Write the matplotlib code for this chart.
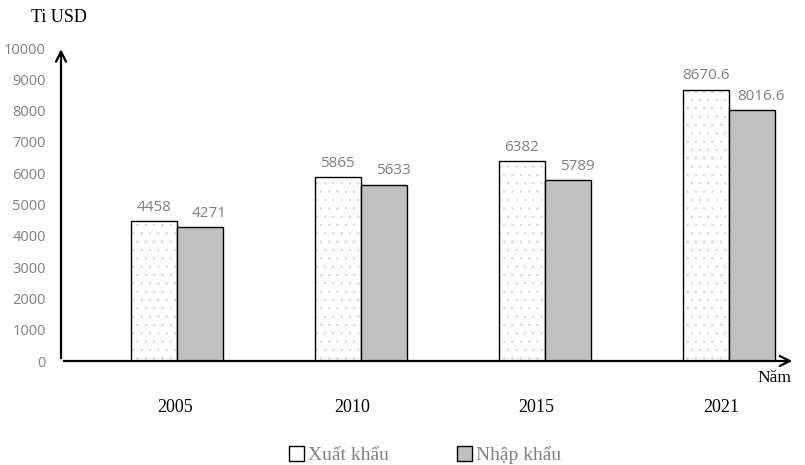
import matplotlib
matplotlib.use("Agg")
import matplotlib.pyplot as plt
from matplotlib.patches import Patch
import numpy as np

years = ["2005", "2010", "2015", "2021"]
xuat_khau = [4458, 5865, 6382, 8670.6]
nhap_khau = [4271, 5633, 5789, 8016.6]
xuat_labels = ["4458", "5865", "6382", "8670.6"]
nhap_labels = ["4271", "5633", "5789", "8016.6"]
yticks = [0, 1000, 2000, 3000, 4000, 5000, 6000, 7000, 8000, 9000, 10000]

plt.rcParams['hatch.linewidth'] = 0.3

fig = plt.figure(figsize=(8.05, 4.65), dpi=100)
ax = fig.add_axes([61/805, 1-361/465, (795-61)/805, (361-48)/465])

x = np.arange(len(years))
w = 0.25
# dotted fill (light hatch), then black outline on top
ax.bar(x - w/2, xuat_khau, w, color='white', edgecolor='#c4cce0', linewidth=0, hatch='..')
ax.bar(x - w/2, xuat_khau, w, color='none', edgecolor='black', linewidth=1.0)
ax.bar(x + w/2, nhap_khau, w, color='#c0c0c0', edgecolor='black', linewidth=1.0)

for xi, v, t in zip(x, xuat_khau, xuat_labels):
    ax.text(xi - w/2, v + 200, t, ha='center', va='bottom', fontsize=11, color='#7f7f7f', family='Open Sans')
for xi, v, t in zip(x, nhap_khau, nhap_labels):
    ax.text(xi + w/2 + 0.05, v + 200, t, ha='center', va='bottom', fontsize=11, color='#7f7f7f', family='Open Sans')

ax.set_xlim(-0.63, 3.36)
ax.set_ylim(0, 10000)
ax.set_yticks(yticks)
ax.set_yticklabels([str(t) for t in yticks], fontsize=10.5, color='#808080', family='Open Sans')
ax.tick_params(axis='y', length=0, pad=11)
ax.set_xticks([])
for s in ax.spines.values():
    s.set_visible(False)

# axes with arrows
ax.annotate('', xy=(0, 1.005), xytext=(0, 0), xycoords='axes fraction',
            arrowprops=dict(arrowstyle='->', color='black', lw=1.6, mutation_scale=18))
ax.annotate('', xy=(1.0, 0), xytext=(0, 0), xycoords='axes fraction',
            arrowprops=dict(arrowstyle='->', color='black', lw=1.6, mutation_scale=18))

# year labels
year_pos = [-0.01, 0.955, 1.955, 2.96]
for xp, yl in zip(year_pos, years):
    ax.text(xp, -1500, yl, ha='center', va='center', fontsize=13, family='Liberation Serif', color='black')

fig.text(59/805, 1-18/465, 'Ti USD', ha='center', va='center', fontsize=13, family='Liberation Serif')
fig.text(774/805, 1-378/465, 'Năm', ha='center', va='center', fontsize=12.5, family='Liberation Serif')

handles = [Patch(facecolor='white', edgecolor='black', linewidth=1.0),
           Patch(facecolor='#c0c0c0', edgecolor='black', linewidth=1.0)]
leg = fig.legend(handles, ['Xuất khẩu', 'Nhập khẩu'], loc='center', bbox_to_anchor=(425/805, 1-455/465),
                 ncol=2, frameon=False, handlelength=0.8, handleheight=0.8, handletextpad=0.2,
                 columnspacing=3.5, prop={'family': 'Liberation Serif', 'size': 14})
for t in leg.get_texts():
    t.set_color('#808080')

fig.savefig('out.png', dpi=100)
